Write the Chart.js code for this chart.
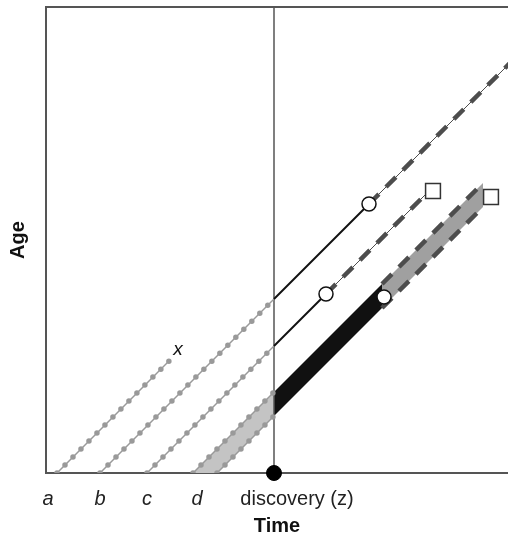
<!DOCTYPE html>
<html>
<head>
<meta charset="utf-8">
<script src="https://cdn.jsdelivr.net/npm/chart.js@4"></script>
<style>
  body { margin: 0; background: #fff; }
</style>
</head>
<body>
<canvas id="chart" width="508" height="542"></canvas>
<script>
// axis extents (time / age units)
const timeMax = 46.2
const ageMax = 46.6

// tick labels along the time axis
const tickLabels = ['a', 'b', 'c', 'd', 'discovery (z)']
const tickPositions = [0.2, 5.4, 10.1, 15.1, 25.1]

const discovery = 22.8

// life lines before discovery (dotted)
const lineA = [{x: 1.1, y: 0}, {x: 12.3, y: 11.2}]
const lineB = [{x: 5.4, y: 0}, {x: 22.8, y: 17.4}]
const lineC = [{x: 10.1, y: 0}, {x: 22.8, y: 12.7}]
const lineDTop = [{x: 14.7, y: 0}, {x: 22.8, y: 8.1}]
const lineDBottom = [{x: 17.1, y: 0}, {x: 22.8, y: 5.7}]

// after discovery, observed (solid)
const solidB = [{x: 22.8, y: 17.4}, {x: 32.3, y: 26.9}]
const solidC = [{x: 22.8, y: 12.7}, {x: 28.0, y: 17.9}]

// after the event (dashed)
const dashB = [{x: 32.3, y: 26.9}, {x: 50, y: 44.6}]
const dashC = [{x: 28.0, y: 17.9}, {x: 38.0, y: 27.9}]
const dashDTop = [{x: 33.6, y: 18.9}, {x: 43.7, y: 29.0}]
const dashDBottom = [{x: 33.6, y: 16.5}, {x: 43.7, y: 26.6}]

// shaded cohort d
const bandBefore = [{x: 14.7, y: 0}, {x: 22.8, y: 8.1}, {x: 22.8, y: 5.7}, {x: 17.1, y: 0}]
const bandObserved = [{x: 22.8, y: 8.1}, {x: 33.6, y: 18.9}, {x: 33.6, y: 16.5}, {x: 22.8, y: 5.7}]
const bandAfter = [{x: 33.6, y: 18.9}, {x: 43.7, y: 29.0}, {x: 43.7, y: 26.6}, {x: 33.6, y: 16.5}]

// markers
const circles = [{x: 32.3, y: 26.9}, {x: 28.0, y: 17.9}, {x: 33.8, y: 17.6}]
const squares = [{x: 38.7, y: 28.2}, {x: 44.5, y: 27.6}]
const xLabel = {x: 13.2, y: 12.3, text: 'x'}

const font = '"Liberation Sans", Arial, sans-serif'

function band(data, color) {
    return {data: data, showLine: true, fill: 'shape', backgroundColor: color,
        borderWidth: 0, pointRadius: 0, order: 10}
}
function dotted(data) {
    return [
        {data: data, showLine: true, borderColor: '#9a9a9a', borderWidth: 1.5, pointRadius: 0, order: 5},
        {data: data, showLine: true, borderColor: '#999', borderWidth: 5.5, borderDash: [0, 11.3],
            borderCapStyle: 'round', pointRadius: 0, order: 5}
    ]
}
function dashed(data, thin) {
    const out = [{data: data, showLine: true, borderColor: '#4d4d4d', borderWidth: 4.5, borderDash: [14, 10],
        borderCapStyle: 'butt', pointRadius: 0, order: 4}]
    if (thin) out.push({data: data, showLine: true, borderColor: '#4d4d4d', borderWidth: 1, pointRadius: 0, order: 4})
    return out
}
function solid(data) {
    return {data: data, showLine: true, borderColor: '#111', borderWidth: 2, pointRadius: 0, order: 3}
}

const textPlugin = {
    id: 'textLabels',
    afterDatasetsDraw(chart) {
        const ctx = chart.ctx
        const x = chart.scales.x.getPixelForValue(xLabel.x)
        const y = chart.scales.y.getPixelForValue(xLabel.y)
        ctx.save()
        ctx.font = 'italic 19px ' + font
        ctx.fillStyle = '#111'
        ctx.textAlign = 'center'
        ctx.textBaseline = 'middle'
        ctx.fillText(xLabel.text, x, y)
        ctx.restore()
    }
}

new Chart(document.querySelector('#chart'), {
    type: 'scatter',
    data: {
        datasets: [
            band(bandBefore, '#c4c4c4'),
            band(bandObserved, '#111'),
            band(bandAfter, '#a0a0a0'),
            ...dotted(lineA),
            ...dotted(lineB),
            ...dotted(lineC),
            ...dotted(lineDTop),
            ...dotted(lineDBottom),
            solid(solidB),
            solid(solidC),
            ...dashed(dashB, true),
            ...dashed(dashC, true),
            ...dashed(dashDTop, false),
            ...dashed(dashDBottom, false),
            {data: [{x: discovery, y: 0}, {x: discovery, y: ageMax}], showLine: true,
                borderColor: '#555', borderWidth: 1.5, pointRadius: 0, order: 6},
            {data: [{x: discovery, y: 0}], pointRadius: 7.5, backgroundColor: '#000',
                borderColor: '#000', clip: false, order: 0},
            {data: circles, pointStyle: 'circle', pointRadius: 7, backgroundColor: '#fff',
                borderColor: '#111', borderWidth: 1.5, order: 0},
            {data: squares, pointStyle: 'rect', pointRadius: 10.5, backgroundColor: '#fff',
                borderColor: '#333', borderWidth: 1.5, order: 0}
        ]
    },
    options: {
        responsive: false,
        animation: false,
        layout: {autoPadding: false, padding: {left: 0, right: 0, top: 0, bottom: 0}},
        plugins: {legend: {display: false}, tooltip: {enabled: false}},
        scales: {
            x: {
                type: 'linear', position: 'bottom', min: 0, max: timeMax,
                afterFit: s => { s.height = 69 },
                afterBuildTicks: s => { s.ticks = tickPositions.map(v => ({value: v})) },
                grid: {display: false, drawTicks: false},
                border: {display: true, color: '#555', width: 2},
                ticks: {
                    autoSkip: false, maxRotation: 0, padding: 14, color: '#222',
                    callback: (v, i) => tickLabels[i],
                    font: c => ({family: font, size: 20, style: c.index < 4 ? 'italic' : 'normal'})
                },
                title: {display: true, text: 'Time', color: '#111', padding: {top: 4},
                    font: {family: font, size: 20, weight: 'bold'}}
            },
            top: {
                type: 'linear', position: 'top', min: 0, max: timeMax,
                afterFit: s => { s.height = 7 },
                grid: {display: false, drawTicks: false},
                border: {display: true, color: '#555', width: 2},
                ticks: {display: false}
            },
            y: {
                type: 'linear', min: 0, max: ageMax,
                afterFit: s => { s.width = 46 },
                grid: {display: false, drawTicks: false},
                border: {display: true, color: '#555', width: 2},
                ticks: {display: false},
                title: {display: true, text: 'Age', color: '#111', padding: {top: 6},
                    font: {family: font, size: 20, weight: 'bold'}}
            }
        }
    },
    plugins: [textPlugin]
})
</script>
</body>
</html>
